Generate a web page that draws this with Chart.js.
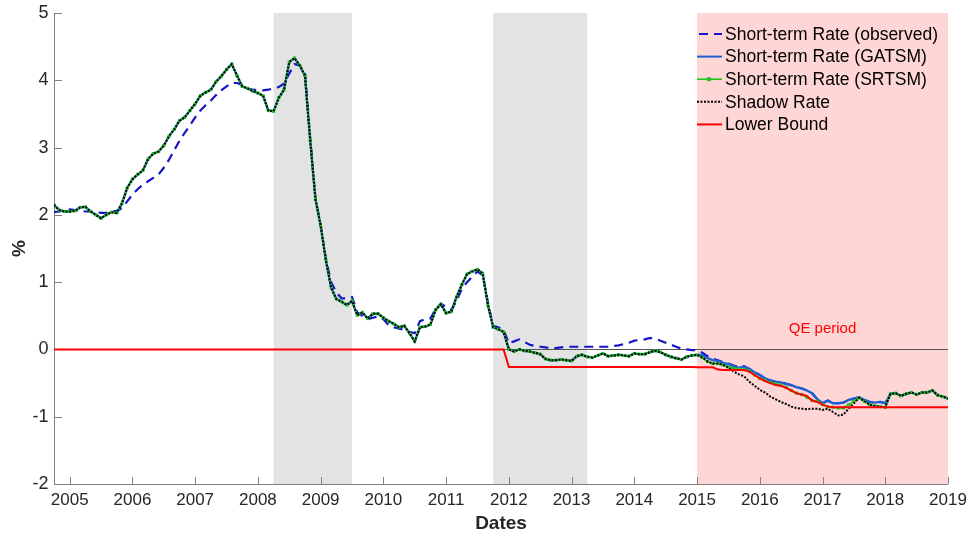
<!DOCTYPE html>
<html>
<head>
<meta charset="utf-8">
<title>Short-term rate</title>
<script src="https://cdn.jsdelivr.net/npm/chart.js@4.4.0/dist/chart.umd.min.js"></script>
<style>
    body { margin: 0; background: #fff; }
    #wrap { width: 972px; height: 540px; }
</style>
</head>
<body>
<div id="wrap"><canvas id="rate-chart" width="972" height="540"></canvas></div>
<script>
// monthly series, first observation is October 2004
const firstYear = 2004;
const firstMonth = 10;

const yearTicks = [2005, 2006, 2007, 2008, 2009, 2010, 2011, 2012, 2013, 2014, 2015, 2016, 2017, 2018, 2019];
const rateTicks = [-2, -1, 0, 1, 2, 3, 4, 5];

// grey bands and the QE window, in decimal years
const greyPeriods = [[2008.25, 2009.5], [2011.75, 2013.25]];
const qePeriod = [2015, 2019];

const observedRate = [
    2.04, 2.05, 2.07, 2.08, 2.07, 2.06, 2.05, 2.05, 2.04, 2.03,
    2.03, 2.05, 2.06, 2.10, 2.20, 2.30, 2.38, 2.45, 2.50, 2.55,
    2.60, 2.70, 2.82, 2.96, 3.10, 3.22, 3.33, 3.45, 3.55, 3.63,
    3.70, 3.78, 3.85, 3.91, 3.96, 3.96, 3.93, 3.88, 3.86, 3.85,
    3.85, 3.86, 3.88, 3.90, 3.95, 4.10, 4.24, 4.22, 4.12, 3.15,
    2.25, 1.85, 1.35, 1.00, 0.85, 0.76, 0.76, 0.78, 0.55, 0.50,
    0.45, 0.47, 0.49, 0.45, 0.36, 0.33, 0.31, 0.29, 0.26, 0.24,
    0.42, 0.45, 0.46, 0.60, 0.68, 0.63, 0.59, 0.72, 0.90, 1.00,
    1.08, 1.16, 1.10, 0.70, 0.35, 0.33, 0.29, 0.09, 0.12, 0.15,
    0.11, 0.07, 0.05, 0.04, 0.03, 0.02, 0.02, 0.03, 0.04, 0.04,
    0.04, 0.04, 0.04, 0.04, 0.04, 0.04, 0.04, 0.05, 0.06, 0.08,
    0.10, 0.13, 0.14, 0.15, 0.17, 0.16, 0.13, 0.10, 0.07, 0.04,
    0.01, 0.00, -0.01, -0.01, -0.05, -0.10, -0.14, -0.16, -0.19, -0.21,
    -0.24, -0.26, -0.25, -0.29, -0.34, -0.38, -0.43, -0.46, -0.48, -0.49,
    -0.51, -0.53, -0.56, -0.58, -0.61, -0.65, -0.74, -0.80, -0.76, -0.80,
    -0.80, -0.79, -0.75, -0.73, -0.71, -0.75, -0.78, -0.79, -0.78, -0.80,
    -0.66, -0.65, -0.69, -0.66, -0.64, -0.67, -0.64, -0.64, -0.61, -0.68,
    -0.70, -0.73
];

// the three model rates coincide until end of 2014
const modelRateTo2015 = [
    2.15, 2.07, 2.05, 2.05, 2.06, 2.11, 2.12, 2.05, 2.00, 1.95,
    2.00, 2.04, 2.03, 2.17, 2.40, 2.53, 2.60, 2.66, 2.83, 2.91,
    2.94, 3.03, 3.17, 3.27, 3.40, 3.45, 3.55, 3.65, 3.77, 3.82,
    3.86, 3.98, 4.06, 4.16, 4.24, 4.07, 3.91, 3.88, 3.84, 3.81,
    3.77, 3.55, 3.54, 3.74, 3.86, 4.27, 4.33, 4.22, 4.07, 3.11,
    2.24, 1.84, 1.33, 0.92, 0.75, 0.71, 0.66, 0.72, 0.51, 0.55,
    0.46, 0.53, 0.53, 0.47, 0.42, 0.38, 0.33, 0.35, 0.24, 0.12,
    0.33, 0.34, 0.37, 0.59, 0.67, 0.54, 0.56, 0.78, 0.96, 1.12,
    1.16, 1.19, 1.13, 0.66, 0.33, 0.30, 0.26, 0.00, -0.03, 0.00,
    -0.02, -0.03, -0.05, -0.07, -0.14, -0.16, -0.16, -0.15, -0.16, -0.17,
    -0.10, -0.08, -0.11, -0.12, -0.09, -0.06, -0.10, -0.09, -0.08, -0.09,
    -0.10, -0.06, -0.07, -0.07, -0.04, -0.02, -0.04, -0.08, -0.11, -0.13,
    -0.15, -0.11, -0.09
];

// Jan 2015 onwards
const gatsmFrom2015 = [
    -0.08, -0.09, -0.13, -0.16, -0.17, -0.20, -0.22, -0.25, -0.27, -0.26,
    -0.29, -0.34, -0.38, -0.43, -0.46, -0.48, -0.49, -0.51, -0.53, -0.56,
    -0.58, -0.61, -0.65, -0.74, -0.80, -0.76, -0.80, -0.80, -0.79, -0.75,
    -0.73, -0.71, -0.75, -0.78, -0.79, -0.78, -0.80, -0.66, -0.65, -0.69,
    -0.66, -0.64, -0.67, -0.64, -0.64, -0.61, -0.68, -0.70, -0.73
];
const srtsmFrom2015 = [
    -0.08, -0.12, -0.18, -0.21, -0.21, -0.23, -0.26, -0.28, -0.29, -0.30,
    -0.32, -0.38, -0.43, -0.46, -0.49, -0.51, -0.53, -0.56, -0.61, -0.65,
    -0.67, -0.71, -0.76, -0.77, -0.82, -0.85, -0.86, -0.87, -0.87, -0.82,
    -0.77, -0.72, -0.77, -0.82, -0.84, -0.85, -0.86, -0.66, -0.65, -0.69,
    -0.66, -0.64, -0.67, -0.64, -0.64, -0.61, -0.68, -0.70, -0.73
];
const shadowFrom2015 = [
    -0.08, -0.12, -0.18, -0.21, -0.21, -0.23, -0.27, -0.33, -0.37, -0.40,
    -0.48, -0.54, -0.60, -0.64, -0.70, -0.74, -0.78, -0.81, -0.85, -0.87,
    -0.88, -0.89, -0.88, -0.88, -0.90, -0.88, -0.93, -0.98, -0.97, -0.88,
    -0.80, -0.72, -0.77, -0.82, -0.84, -0.85, -0.86, -0.66, -0.65, -0.69,
    -0.66, -0.64, -0.67, -0.64, -0.64, -0.61, -0.68, -0.70, -0.73
];

const lowerBound = [
    0, 0, 0, 0, 0, 0, 0, 0, 0, 0,
    0, 0, 0, 0, 0, 0, 0, 0, 0, 0,
    0, 0, 0, 0, 0, 0, 0, 0, 0, 0,
    0, 0, 0, 0, 0, 0, 0, 0, 0, 0,
    0, 0, 0, 0, 0, 0, 0, 0, 0, 0,
    0, 0, 0, 0, 0, 0, 0, 0, 0, 0,
    0, 0, 0, 0, 0, 0, 0, 0, 0, 0,
    0, 0, 0, 0, 0, 0, 0, 0, 0, 0,
    0, 0, 0, 0, 0, 0, 0, -0.26, -0.26, -0.26,
    -0.26, -0.26, -0.26, -0.26, -0.26, -0.26, -0.26, -0.26, -0.26, -0.26,
    -0.26, -0.26, -0.26, -0.26, -0.26, -0.26, -0.26, -0.26, -0.26, -0.26,
    -0.26, -0.26, -0.26, -0.26, -0.26, -0.26, -0.26, -0.26, -0.26, -0.26,
    -0.26, -0.26, -0.26, -0.265, -0.265, -0.265, -0.265, -0.30, -0.305, -0.305,
    -0.305, -0.305, -0.305, -0.33, -0.38, -0.43, -0.47, -0.50, -0.53, -0.54,
    -0.57, -0.61, -0.65, -0.67, -0.69, -0.76, -0.78, -0.82, -0.85, -0.86,
    -0.86, -0.86, -0.86, -0.86, -0.86, -0.86, -0.86, -0.86, -0.86, -0.86,
    -0.86, -0.86, -0.86, -0.86, -0.86, -0.86, -0.86, -0.86, -0.86, -0.86,
    -0.86, -0.86
];

const FONT = "'Liberation Sans', Arial, Helvetica, sans-serif";
const AXIS_GREY = '#808080';
const TEXT_COLOR = '#262626';

// pair each value with its month as a decimal year
function toPoints(paramValues) {
    return paramValues.map((value, i) => ({
        x: firstYear + (firstMonth - 1 + i) / 12,
        y: value,
    }));
}

// shaded periods go under the axes
const shadePlugin = {
    id: 'shade',
    beforeDraw(chart) {
        const { ctx, chartArea, scales } = chart;
        const vTop = chartArea.top;
        const vHeight = chartArea.bottom - chartArea.top;
        ctx.save();
        ctx.fillStyle = '#e3e3e3';
        greyPeriods.forEach(([from, to]) => {
            const x0 = scales.x.getPixelForValue(from);
            const x1 = scales.x.getPixelForValue(to);
            ctx.fillRect(x0, vTop, x1 - x0, vHeight);
        });
        ctx.fillStyle = '#ffd6d6';
        const q0 = scales.x.getPixelForValue(qePeriod[0]);
        const q1 = scales.x.getPixelForValue(qePeriod[1]);
        ctx.fillRect(q0, vTop, q1 - q0, vHeight);
        ctx.restore();
    },
};

// zero line, axis lines with inward ticks, QE label
const axesPlugin = {
    id: 'axes',
    beforeDatasetsDraw(chart) {
        const { ctx, chartArea, scales } = chart;
        const { left, right, top, bottom } = chartArea;
        ctx.save();

        const y0 = Math.round(scales.y.getPixelForValue(0)) + 0.5;
        ctx.strokeStyle = '#555555';
        ctx.lineWidth = 1;
        ctx.beginPath();
        ctx.moveTo(left, y0);
        ctx.lineTo(right, y0);
        ctx.stroke();

        ctx.strokeStyle = AXIS_GREY;
        ctx.beginPath();
        ctx.moveTo(left + 0.5, top);
        ctx.lineTo(left + 0.5, bottom + 0.5);
        ctx.lineTo(right, bottom + 0.5);
        rateTicks.forEach((v) => {
            const y = Math.round(scales.y.getPixelForValue(v)) + 0.5;
            ctx.moveTo(left, y);
            ctx.lineTo(left + 8, y);
        });
        yearTicks.forEach((v) => {
            const x = Math.round(scales.x.getPixelForValue(v)) + 0.5;
            ctx.moveTo(x, bottom);
            ctx.lineTo(x, bottom - 7);
        });
        ctx.stroke();

        ctx.fillStyle = '#ff0000';
        ctx.font = '15px ' + FONT;
        ctx.textAlign = 'center';
        ctx.textBaseline = 'middle';
        ctx.fillText('QE period',
            scales.x.getPixelForValue((qePeriod[0] + qePeriod[1]) / 2),
            scales.y.getPixelForValue(0.31));
        ctx.restore();
    },
};

// legend in the top right corner, drawn from the datasets
const legendPlugin = {
    id: 'rateLegend',
    afterDraw(chart) {
        const { ctx, chartArea } = chart;
        const xLine = chartArea.right - 251;
        const xText = xLine + 28;
        let vRowY = chartArea.top + 21;
        ctx.save();
        ctx.font = '17.5px ' + FONT;
        ctx.textBaseline = 'middle';
        ctx.textAlign = 'left';
        chart.data.datasets.forEach((ds) => {
            ctx.strokeStyle = ds.borderColor;
            ctx.lineWidth = Math.min(ds.borderWidth, 2);
            ctx.setLineDash(ds.borderDash || []);
            ctx.beginPath();
            if (ds.borderDash && ds.borderDash[0] > 4) {
                ctx.moveTo(xLine + 2, vRowY);
            } else {
                ctx.moveTo(xLine, vRowY);
            }
            ctx.lineTo(xLine + 25, vRowY);
            ctx.stroke();
            ctx.setLineDash([]);
            if (ds.pointRadius > 0) {
                ctx.fillStyle = ds.pointBackgroundColor;
                ctx.fillRect(xLine + 10, vRowY - 2, 4, 4);
            }
            ctx.fillStyle = '#000000';
            ctx.fillText(ds.label, xText, vRowY + 1);
            vRowY += 22.6;
        });
        ctx.restore();
    },
};

function makeSeries(paramLabel, paramValues, paramStyle) {
    return Object.assign({
        label: paramLabel,
        data: toPoints(paramValues),
        fill: false,
        tension: 0,
        pointRadius: 0,
        borderWidth: 2,
    }, paramStyle);
}

let vDatasets = [
    makeSeries('Short-term Rate (observed)', observedRate, {
        borderColor: '#1616c8', borderDash: [9, 6], borderWidth: 2.2, order: 5,
    }),
    makeSeries('Short-term Rate (GATSM)', modelRateTo2015.concat(gatsmFrom2015), {
        borderColor: '#1d5fd2', borderWidth: 2.4, order: 4,
    }),
    makeSeries('Short-term Rate (SRTSM)', modelRateTo2015.concat(srtsmFrom2015), {
        borderColor: '#22c322', borderWidth: 1.6, order: 3,
        pointRadius: 2.2, pointStyle: 'rect',
        pointBackgroundColor: '#22c322', pointBorderColor: '#22c322', pointBorderWidth: 0,
    }),
    makeSeries('Shadow Rate', modelRateTo2015.concat(shadowFrom2015), {
        borderColor: '#000000', borderDash: [2, 1.5], borderWidth: 2, order: 2,
    }),
    makeSeries('Lower Bound', lowerBound, {
        borderColor: '#ff0000', order: 1,
    }),
];

Chart.defaults.font.family = FONT;
Chart.defaults.color = TEXT_COLOR;

new Chart(document.getElementById('rate-chart').getContext('2d'), {
    type: 'line',
    data: { datasets: vDatasets },
    options: {
        responsive: false,
        devicePixelRatio: 1,
        animation: false,
        events: [],
        layout: { padding: { top: 13, right: 24, left: 0, bottom: 0 } },
        plugins: {
            legend: { display: false },
            tooltip: { enabled: false },
        },
        scales: {
            x: {
                type: 'linear',
                min: firstYear + (firstMonth - 1) / 12,
                max: yearTicks[yearTicks.length - 1],
                afterBuildTicks: (axis) => {
                    axis.ticks = yearTicks.map((v) => ({ value: v }));
                },
                afterFit: (axis) => { axis.height = 56; },
                grid: { display: false, drawTicks: false },
                border: { display: false },
                ticks: {
                    font: { size: 17, lineHeight: 1.4 },
                    color: TEXT_COLOR,
                    padding: 4,
                    maxRotation: 0,
                    autoSkip: false,
                    callback: (v) => String(v),
                },
                title: {
                    display: true,
                    text: 'Dates',
                    font: { size: 19, weight: 'bold' },
                    color: TEXT_COLOR,
                    padding: { top: 0, bottom: 5 },
                },
            },
            y: {
                min: rateTicks[0],
                max: rateTicks[rateTicks.length - 1],
                afterBuildTicks: (axis) => {
                    axis.ticks = rateTicks.map((v) => ({ value: v }));
                },
                afterFit: (axis) => { axis.width = 54; },
                grid: { display: false, drawTicks: false },
                border: { display: false },
                ticks: {
                    font: { size: 18, lineHeight: 0.8 },
                    color: TEXT_COLOR,
                    padding: 5.5,
                },
                title: {
                    display: true,
                    text: '%',
                    font: { size: 19, weight: 'bold' },
                    color: TEXT_COLOR,
                    padding: { top: 8, bottom: 0 },
                },
            },
        },
    },
    plugins: [shadePlugin, axesPlugin, legendPlugin],
});
</script>
</body>
</html>
